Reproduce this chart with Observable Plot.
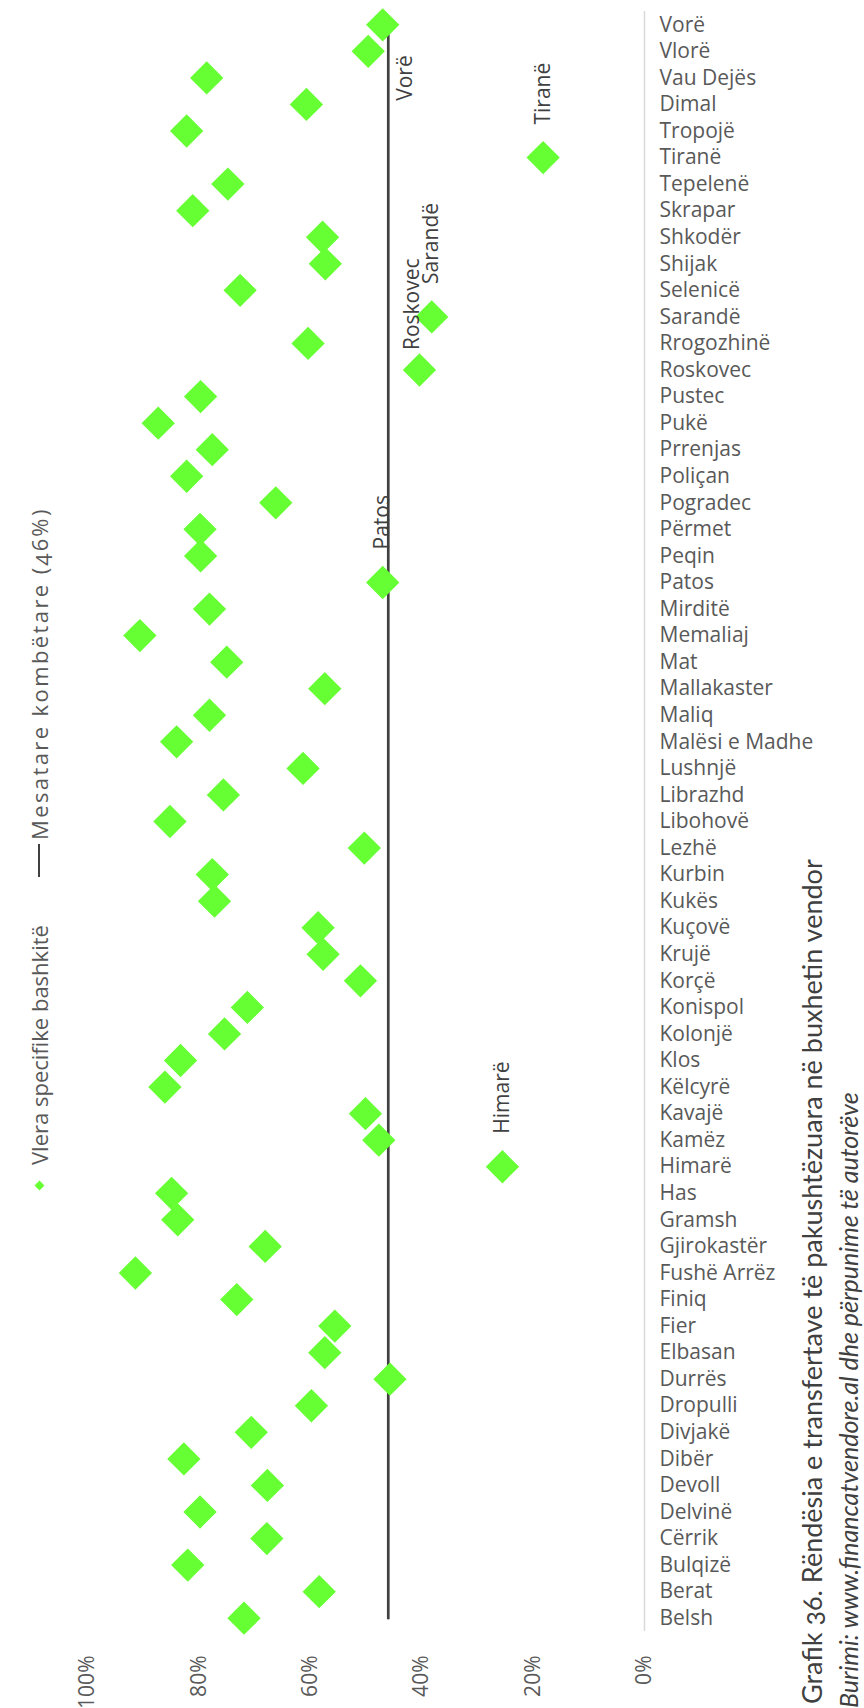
<!DOCTYPE html>
<html>
<head>
<meta charset="utf-8">
<script src="https://cdn.jsdelivr.net/npm/d3@7"></script>
<script src="https://cdn.jsdelivr.net/npm/@observablehq/plot@0.6"></script>
<style>
  html, body { margin: 0; padding: 0; background: #fff; }
  #wrap { position: relative; width: 864px; height: 1708px; overflow: hidden; background: #fff; }
  #wrap svg { position: absolute; left: 0; top: 0; font-variant-numeric: oldstyle-nums; }
  .rot { position: absolute; transform-origin: 0 0; transform: rotate(-90deg); white-space: nowrap; }
  .title { font-family: Lato, "Open Sans", sans-serif; font-size: 27px; line-height: 34px; color: #404040; font-variant-numeric: oldstyle-nums; }
  .source { font-family: Lato, "Open Sans", sans-serif; font-style: italic; font-size: 25px; line-height: 30px; color: #404040; }
  .legend { font-family: "Open Sans", sans-serif; font-size: 22px; line-height: 30px; color: #595959; display: flex; align-items: center; font-variant-numeric: oldstyle-nums; }
  .wide { letter-spacing: 2.4px; }
  .slot { width: 33px; height: 30px; display: flex; align-items: center; justify-content: center; margin-right: 4px; }
  .mk { width: 7px; height: 7px; background: #66ff33; transform: rotate(45deg); }
  .ln { width: 33px; height: 0; border-top: 2.7px solid #404040; }
</style>
</head>
<body>
<div id="wrap">
  <div class="rot title" style="left:795px; top:1704px;">Grafik 36. Rëndësia e transfertave të pakushtëzuara në buxhetin vendor</div>
  <div class="rot source" style="left:833px; top:1708px;">Burimi: www.financatvendore.al dhe përpunime të autorëve</div>
  <div class="rot legend" style="left:24px; top:1202px;"><span class="slot"><span class="mk"></span></span><span>Vlera specifike bashkitë</span></div>
  <div class="rot legend" style="left:24px; top:877px;"><span class="slot"><span class="ln"></span></span><span class="wide">Mesatare kombëtare (46%)</span></div>
</div>
<script>
// Municipalities, in the order shown from top (Vorë) to bottom (Belsh)
const municipalities = [
  "Vorë","Vlorë","Vau Dejës","Dimal","Tropojë","Tiranë","Tepelenë","Skrapar","Shkodër","Shijak",
  "Selenicë","Sarandë","Rrogozhinë","Roskovec","Pustec","Pukë","Prrenjas","Poliçan","Pogradec","Përmet",
  "Peqin","Patos","Mirditë","Memaliaj","Mat","Mallakaster","Maliq","Malësi e Madhe","Lushnjë","Librazhd",
  "Libohovë","Lezhë","Kurbin","Kukës","Kuçovë","Krujë","Korçë","Konispol","Kolonjë","Klos",
  "Këlcyrë","Kavajë","Kamëz","Himarë","Has","Gramsh","Gjirokastër","Fushë Arrëz","Finiq","Fier",
  "Elbasan","Durrës","Dropulli","Divjakë","Dibër","Devoll","Delvinë","Cërrik","Bulqizë","Berat","Belsh"
];
// Share of unconditional transfers in the local budget (same order)
const shares = [
  0.470,0.496,0.786,0.607,0.822,0.182,0.748,0.811,0.578,0.573,
  0.726,0.382,0.604,0.404,0.797,0.873,0.776,0.822,0.662,0.798,
  0.797,0.470,0.781,0.906,0.750,0.574,0.781,0.840,0.613,0.756,
  0.852,0.503,0.776,0.772,0.586,0.577,0.510,0.713,0.754,0.833,
  0.861,0.501,0.477,0.255,0.849,0.838,0.681,0.914,0.732,0.556,
  0.574,0.457,0.598,0.706,0.827,0.677,0.798,0.678,0.820,0.584,0.719
];
const nationalMean = 0.46;
const xTicks = [0, 0.2, 0.4, 0.6, 0.8, 1];
const labeledNames = ["Tiranë", "Sarandë", "Patos", "Himarë"];

const data = municipalities.map((name, i) => ({name, value: shares[i]}));
const meanLine = municipalities.map(name => ({name, value: nationalMean}));
const pick = names => data.filter(d => names.includes(d.name));

const chart = Plot.plot({
  width: 864,
  height: 1708,
  marginLeft: 87,
  marginRight: 220,
  marginTop: 11,
  marginBottom: 77,
  style: {fontFamily: "'Open Sans', sans-serif", fontSize: "21px", color: "#595959", background: "transparent"},
  x: {domain: [0, 1], reverse: true},
  y: {type: "point", domain: municipalities, padding: 0.5},
  marks: [
    Plot.ruleX([0], {stroke: "#d9d9d9", strokeWidth: 1.5}),
    Plot.line(meanLine, {x: "value", y: "name", stroke: "#404040", strokeWidth: 2.7}),
    Plot.dot(data, {x: "value", y: "name", symbol: "diamond2", r: 15, fill: "#66ff33", stroke: "none"}),
    Plot.text(pick(labeledNames), {x: "value", y: "name", text: "name", rotate: -90, textAnchor: "start", dy: -33, fill: "#404040"}),
    Plot.text(pick(["Vorë"]), {x: "value", y: "name", text: "name", rotate: -90, textAnchor: "start", dx: 23, dy: 76, fill: "#404040"}),
    Plot.text(pick(["Roskovec"]), {x: "value", y: "name", text: "name", rotate: -90, textAnchor: "start", dx: -7, dy: -20, fill: "#404040"}),
    Plot.axisX({anchor: "bottom", ticks: xTicks, tickFormat: d3.format(".0%"), tickRotate: -90, tickSize: 0, tickPadding: 24, label: null}),
    Plot.axisY({anchor: "right", tickSize: 0, tickPadding: 15, label: null})
  ]
});
document.getElementById("wrap").prepend(chart);
</script>
</body>
</html>
